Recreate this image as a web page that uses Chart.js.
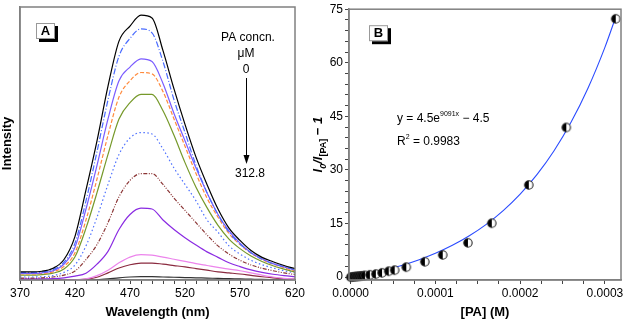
<!DOCTYPE html>
<html lang="en">

<head>
  <meta charset="UTF-8">
  <title>PA Quenching Spectra</title>
  <!-- Chart.js -->
  <script src="https://cdn.jsdelivr.net/npm/chart.js"></script>
  <style>
    body {
      margin: 0;
      background: #fff;
    }

    .panel {
      position: absolute;
      top: 0;
      height: 320px;
    }

    #panelA {
      left: 0;
      width: 310px;
    }

    #panelB {
      left: 310px;
      width: 316px;
    }
  </style>
</head>

<body>
  <div class="panel" id="panelA"><canvas id="spectraChart" width="310" height="320"></canvas></div>
  <div class="panel" id="panelB"><canvas id="fitChart" width="316" height="320"></canvas></div>

  <script>
    // ---- Panel A data: emission spectra (arb. intensity) ----
    const wavelengths = [370, 380, 390, 400, 410, 420, 430, 440, 450, 460, 470, 480, 490,
      500, 510, 520, 530, 540, 550, 560, 570, 580, 590, 600, 610, 620];
    const xTicksA = [370, 420, 470, 520, 570, 620];

    const spec1 = [3.0, 3.0, 3.2, 4.3, 7.5, 16, 33, 51, 71, 87.5, 93, 97, 96, 84, 70, 57, 45, 35, 26, 19, 14.5, 10.8, 8.3, 6.7, 5.3, 4.2];
    const spec2 = [2.7, 2.7, 2.9, 3.8, 6.5, 13.5, 29, 47, 66, 82, 88.5, 92, 90.5, 80, 66, 54, 42, 32, 24, 17.5, 13.2, 10, 7.6, 6.0, 4.8, 3.8];
    const spec3 = [2.4, 2.4, 2.6, 3.4, 5.8, 12, 26, 42, 59, 73, 78, 81, 80, 72, 61, 51, 41, 32, 24, 18, 13.5, 10, 7.8, 6, 4.8, 3.6];
    const spec4 = [2.2, 2.2, 2.4, 3.0, 5.0, 10, 22, 37, 53, 67, 73, 76, 75.5, 69, 59, 49, 39, 30, 23, 17, 13, 9.8, 7.5, 5.8, 4.5, 3.3];
    const spec5 = [1.8, 1.8, 2.0, 2.5, 4.0, 8.5, 19, 32, 46, 59, 65, 68, 68, 62, 53, 43, 34, 26.5, 20, 15, 11.5, 8.8, 6.8, 5.2, 4.0, 2.9];
    const spec6 = [1.1, 1.1, 1.2, 1.6, 2.8, 5.5, 12.5, 23, 35, 46, 52, 54, 53.5, 48, 41, 35, 29, 22, 17.5, 12.5, 9.5, 7.2, 5.6, 4.4, 3.4, 2.6];
    const spec7 = [0.7, 0.7, 0.8, 1.1, 1.8, 3.3, 7.5, 13, 21, 30.5, 36.5, 39, 39, 35, 30, 25.5, 21, 16.5, 12.5, 9.5, 7.2, 5.5, 4.3, 3.4, 2.6, 2.0];
    const spec8 = [0.4, 0.4, 0.4, 0.5, 0.8, 1.4, 2.5, 5.8, 10.5, 18.5, 24, 26.3, 26, 22, 18.5, 15.5, 12.8, 10.3, 8.3, 6.3, 4.9, 3.7, 2.8, 2.1, 1.6, 1.2];
    const spec9 = [0, 0, 0, 0, 0, 0.1, 0.4, 1.6, 3.6, 6.3, 8.4, 9.3, 9.1, 8.4, 7.6, 6.8, 6.0, 5.3, 4.6, 4.0, 3.4, 2.6, 1.8, 1.1, 0.6, 0.3];
    const spec10 = [0, 0, 0, 0, 0, 0, 0.3, 1.0, 2.6, 4.4, 5.6, 6.2, 6.2, 5.8, 5.3, 4.8, 4.2, 3.6, 3.0, 2.6, 2.2, 1.7, 1.2, 0.8, 0.5, 0.3];
    const spec11 = [0, 0, 0, 0, 0, 0, 0, 0.1, 0.4, 0.8, 1.1, 1.2, 1.2, 1.1, 1.0, 0.9, 0.8, 0.7, 0.6, 0.5, 0.4, 0.3, 0.2, 0.15, 0.1, 0.05];

    // ---- Panel B data: I0/I - 1 vs [PA] ----
    const paConc = [0, 0.000002, 0.000004, 0.000006, 0.000008, 0.00001, 0.000012, 0.000014, 0.0000168,
      0.0000226, 0.0000297, 0.000037, 0.0000449, 0.0000519, 0.0000656, 0.0000875, 0.0001086,
      0.0001383, 0.0001665, 0.0002102, 0.0002544, 0.0003128];
    const quench = [0, 0.05, 0.1, 0.15, 0.2, 0.25, 0.3, 0.37, 0.47, 0.64, 0.85, 1.2, 1.65, 1.95,
      2.8, 4.3, 6.2, 9.6, 15.1, 25.8, 41.9, 72.3];
    // exponential fit curve
    const fitConc = [0, 0.00002, 0.00004, 0.00006, 0.00008, 0.0001, 0.00012, 0.00014, 0.00016,
      0.00018, 0.0002, 0.00022, 0.00024, 0.00026, 0.00028, 0.0003, 0.0003128];
    const fitVal = [0, 0.9, 1.97, 3.26, 4.81, 6.67, 8.9, 11.57, 14.77, 18.62, 23.23, 28.75, 35.38,
      43.33, 52.87, 64.31, 72.81];
    const xTicksB = [0, 0.0001, 0.0002, 0.0003];
    const xLabelsB = ['0.0000', '0.0001', '0.0002', '0.0003'];
    const yTicksB = [0, 15, 30, 45, 60, 75];

    const FONT = "'Liberation Sans', Arial, sans-serif";
    Chart.defaults.font.family = FONT;
    Chart.defaults.color = '#000';

    const frameColor = '#808080';

    // draws the grey box round the plot area
    const framePlugin = {
      id: 'frame',
      afterDatasetsDraw(chart) {
        const a = chart.chartArea;
        const ctx = chart.ctx;
        ctx.save();
        ctx.strokeStyle = frameColor;
        ctx.lineWidth = 1.5;
        ctx.strokeRect(a.left, a.top, a.right - a.left, a.bottom - a.top);
        ctx.restore();
      }
    };

    // boxed panel letter with a black drop shadow
    function drawPanelLabel(ctx, x, y, letter) {
      ctx.save();
      ctx.fillStyle = '#000';
      ctx.fillRect(x + 3, y + 3, 19, 16);
      ctx.fillStyle = '#fff';
      ctx.fillRect(x, y, 19, 16);
      ctx.strokeStyle = '#999';
      ctx.lineWidth = 1;
      ctx.strokeRect(x + 0.5, y + 0.5, 18, 15);
      ctx.fillStyle = '#000';
      ctx.font = 'bold 13px ' + FONT;
      ctx.textAlign = 'center';
      ctx.textBaseline = 'middle';
      ctx.fillText(letter, x + 9.5, y + 8.5);
      ctx.restore();
    }

    // draw a run of text pieces (font, text, vertical shift) starting at x
    function drawRuns(ctx, runs, x, y) {
      runs.forEach(r => {
        ctx.font = r.font;
        ctx.fillText(r.text, x, y + (r.dy || 0));
        x += ctx.measureText(r.text).width;
      });
      return x;
    }

    function runsWidth(ctx, runs) {
      let w = 0;
      runs.forEach(r => {
        ctx.font = r.font;
        w += ctx.measureText(r.text).width;
      });
      return w;
    }

    const spectraNotes = {
      id: 'spectraNotes',
      afterDraw(chart) {
        const ctx = chart.ctx;
        const a = chart.chartArea;
        drawPanelLabel(ctx, a.left + 16, a.top + 16, 'A');

        ctx.save();
        ctx.fillStyle = '#000';
        ctx.font = '12px ' + FONT;
        ctx.textAlign = 'center';
        ctx.textBaseline = 'middle';
        ctx.fillText('PA concn.', 248, 38);
        ctx.fillText('\u03bcM', 246, 54);
        ctx.fillText('0', 246, 70);
        ctx.fillText('312.8', 250, 174);

        // arrow from 0 to 312.8
        ctx.strokeStyle = '#000';
        ctx.lineWidth = 1;
        ctx.beginPath();
        ctx.moveTo(246.5, 78);
        ctx.lineTo(246.5, 157);
        ctx.stroke();
        ctx.beginPath();
        ctx.moveTo(246.5, 164);
        ctx.lineTo(243.5, 155);
        ctx.lineTo(249.5, 155);
        ctx.closePath();
        ctx.fill();
        ctx.restore();
      }
    };

    const fitNotes = {
      id: 'fitNotes',
      afterDraw(chart) {
        const ctx = chart.ctx;
        const a = chart.chartArea;
        drawPanelLabel(ctx, a.left + 20, a.top + 16, 'B');

        ctx.save();
        ctx.fillStyle = '#000';
        ctx.textBaseline = 'alphabetic';
        const f12 = '12px ' + FONT;
        const f7 = '7px ' + FONT;
        drawRuns(ctx, [
          { font: f12, text: 'y = 4.5e' },
          { font: f7, text: '9091x', dy: -6 },
          { font: f12, text: ' \u2212 4.5' }
        ], 87, 122);
        drawRuns(ctx, [
          { font: f12, text: 'R' },
          { font: f7, text: '2', dy: -6 },
          { font: f12, text: ' = 0.9983' }
        ], 87, 145);

        // rotated y title I0/I[PA] - 1
        const runs = [
          { font: 'italic bold 13px ' + FONT, text: 'I' },
          { font: 'italic bold 9px ' + FONT, text: '0', dy: 4 },
          { font: 'italic bold 13px ' + FONT, text: '/I' },
          { font: 'bold 9px ' + FONT, text: '[PA]', dy: 4 },
          { font: 'bold 13px ' + FONT, text: ' \u2212 ' },
          { font: 'italic bold 13px ' + FONT, text: '1' }
        ];
        ctx.translate(12, (a.top + a.bottom) / 2);
        ctx.rotate(-Math.PI / 2);
        drawRuns(ctx, runs, -runsWidth(ctx, runs) / 2, 0);
        ctx.restore();
      }
    };

    // half-filled circle marker
    function halfDot(r) {
      const c = document.createElement('canvas');
      const s = Math.ceil(r * 2 + 3);
      c.width = c.height = s;
      const g = c.getContext('2d');
      const m = s / 2;
      g.fillStyle = '#fff';
      g.beginPath();
      g.arc(m, m, r, 0, Math.PI * 2);
      g.fill();
      g.fillStyle = '#000';
      g.beginPath();
      g.arc(m, m, r, Math.PI / 2, Math.PI * 1.5);
      g.closePath();
      g.fill();
      g.strokeStyle = '#222';
      g.lineWidth = 1.1;
      g.beginPath();
      g.arc(m, m, r, 0, Math.PI * 2);
      g.stroke();
      return c;
    }

    function toPoints(xs, ys) {
      return xs.map((x, i) => ({ x: x, y: ys[i] }));
    }

    // Panel A: spectra
    function generateSpectra() {
      const styles = [
        [spec1, '#000000', []],
        [spec2, '#4a6cff', [6, 2, 1, 2]],
        [spec3, '#7a5cff', []],
        [spec4, '#ff8a3d', [4, 2]],
        [spec5, '#76992a', []],
        [spec6, '#4f72ff', [1.5, 2.5]],
        [spec7, '#8b3535', [4, 1.5, 1, 1.5, 1, 1.5]],
        [spec8, '#8a2be2', []],
        [spec9, '#ec84ec', []],
        [spec10, '#8a2a3f', []],
        [spec11, '#333333', []]
      ];
      const datasets = styles.map(s => ({
        data: toPoints(wavelengths, s[0]),
        borderColor: s[1],
        borderDash: s[2],
        borderWidth: 1.2,
        pointRadius: 0,
        fill: false,
        cubicInterpolationMode: 'monotone'
      }));

      new Chart(document.getElementById('spectraChart'), {
        type: 'line',
        data: { datasets: datasets },
        options: {
          responsive: false,
          animation: false,
          layout: { padding: { left: 0, top: 7, right: 15, bottom: 0 } },
          plugins: { legend: { display: false }, tooltip: { enabled: false } },
          scales: {
            x: {
              type: 'linear',
              min: 370,
              max: 620,
              afterBuildTicks: s => {
                const t = [];
                for (let w = 370; w <= 620; w += 10) t.push({ value: w });
                s.ticks = t;
              },
              afterFit: s => { s.height = 40; },
              ticks: {
                autoSkip: false,
                maxRotation: 0,
                padding: 2,
                font: { size: 12 },
                callback: v => xTicksA.includes(v) ? String(v) : ''
              },
              grid: { drawOnChartArea: false, tickLength: 4, tickColor: '#444' },
              border: { color: frameColor, width: 1.5 },
              title: { display: true, text: 'Wavelength (nm)', font: { size: 13, weight: 'bold' }, padding: 0 }
            },
            y: {
              min: 0,
              max: 100,
              afterFit: s => { s.width = 20; },
              ticks: { display: false },
              grid: { drawOnChartArea: false, drawTicks: false },
              border: { color: frameColor, width: 1.5 },
              title: { display: true, text: 'Intensity', font: { size: 13, weight: 'bold' }, padding: 0 }
            }
          }
        },
        plugins: [framePlugin, spectraNotes]
      });
    }

    // Panel B: quenching fit
    function generateFit() {
      new Chart(document.getElementById('fitChart'), {
        type: 'scatter',
        data: {
          datasets: [{
            data: toPoints(paConc, quench),
            pointStyle: halfDot(4.2),
            clip: false
          }, {
            data: toPoints(fitConc, fitVal),
            showLine: true,
            borderColor: '#2a4bff',
            borderWidth: 1.1,
            pointRadius: 0,
            cubicInterpolationMode: 'monotone'
          }]
        },
        options: {
          responsive: false,
          animation: false,
          layout: { padding: { left: 0, top: 7, right: 3, bottom: 0 } },
          plugins: { legend: { display: false }, tooltip: { enabled: false } },
          scales: {
            x: {
              type: 'linear',
              min: -0.000002,
              max: 0.000319,
              afterBuildTicks: s => {
                const t = [];
                for (let i = 0; i <= 12; i++) t.push({ value: i * 0.000025 });
                s.ticks = t;
              },
              afterFit: s => { s.height = 40; },
              ticks: {
                autoSkip: false,
                maxRotation: 0,
                padding: 2,
                font: { size: 12 },
                callback: (v, i) => i % 4 === 0 ? xLabelsB[i / 4] : ''
              },
              grid: { drawOnChartArea: false, tickLength: 4, tickColor: '#444' },
              border: { color: frameColor, width: 1.5 },
              title: { display: true, text: '[PA] (M)', font: { size: 13, weight: 'bold' }, padding: 0 }
            },
            y: {
              min: -0.8,
              max: 75,
              afterBuildTicks: s => {
                const t = [];
                for (let v = 0; v <= 75; v += 3) t.push({ value: v });
                s.ticks = t;
              },
              afterFit: s => { s.width = 39; },
              ticks: {
                autoSkip: false,
                padding: 2,
                font: { size: 12 },
                callback: v => yTicksB.includes(v) ? String(v) : ''
              },
              grid: { drawOnChartArea: false, tickLength: 4, tickColor: '#444' },
              border: { color: frameColor, width: 1.5 },
              title: { display: false }
            }
          }
        },
        plugins: [framePlugin, fitNotes]
      });
    }

    window.onload = () => {
      generateSpectra();
      generateFit();
    };
  </script>
</body>

</html>
